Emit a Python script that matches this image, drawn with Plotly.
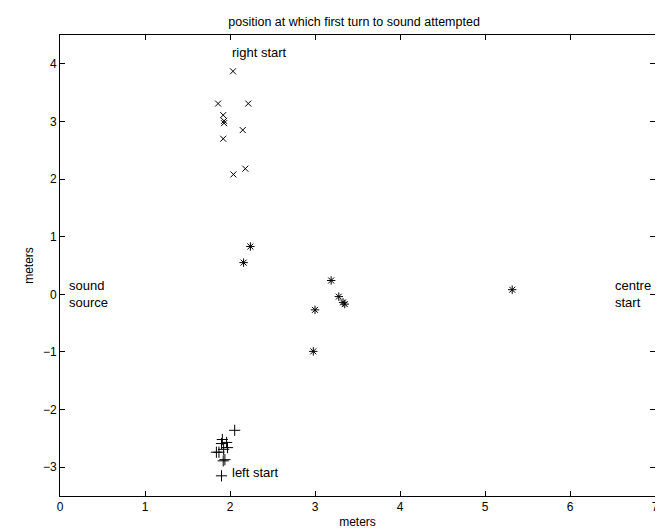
import plotly.graph_objects as go

# right start (x markers)
right_x = [2.035, 1.86, 2.215, 1.92, 1.93, 1.93, 2.15, 1.92, 2.18, 2.04]
right_y = [3.87, 3.31, 3.31, 3.11, 3.01, 2.97, 2.85, 2.70, 2.18, 2.08]

# left start (+ markers)
left_x = [2.055, 1.91, 1.96, 1.90, 1.97, 1.925, 1.84, 1.87, 1.94, 1.92, 1.90]
left_y = [-2.36, -2.52, -2.57, -2.59, -2.66, -2.69, -2.74, -2.74, -2.87, -2.89, -3.15]

# centre start (* markers)
centre_x = [3.19, 3.28, 3.33, 3.35, 3.00, 2.98, 2.24, 2.16, 5.32]
centre_y = [0.24, -0.04, -0.14, -0.17, -0.27, -0.99, 0.83, 0.55, 0.08]

labels = ["right start", "left start", "centre<br>start", "sound<br>source"]
label_x = [2.0, 2.0, 6.5, 0.08]
label_y = [4.2, -3.1, 0.0, 0.0]

x_ticks = [0, 1, 2, 3, 4, 5, 6, 7]
y_ticks = [-3, -2, -1, 0, 1, 2, 3, 4]

FONT = "Liberation Sans, Arial, Helvetica, sans-serif"

fig = go.Figure()
fig.add_trace(go.Scatter(x=right_x, y=right_y, mode="markers",
                         marker=dict(symbol="x-thin-open", size=6, color="black",
                                     line=dict(width=1, color="black"))))
fig.add_trace(go.Scatter(x=left_x, y=left_y, mode="markers",
                         marker=dict(symbol="cross-thin-open", size=8, color="black",
                                     line=dict(width=1, color="black"))))
fig.add_trace(go.Scatter(x=centre_x, y=centre_y, mode="markers",
                         marker=dict(symbol="asterisk-open", size=7, color="black",
                                     line=dict(width=1, color="black"))))

for t, x, y in zip(labels, label_x, label_y):
    fig.add_annotation(x=x, y=y, text=t, showarrow=False, xanchor="left",
                       yanchor="middle", align="left",
                       font=dict(family=FONT, size=13, color="black"))

axis_common = dict(showgrid=False, zeroline=False, showline=True, linecolor="black",
                   linewidth=1, mirror="ticks", ticks="inside", ticklen=5,
                   tickcolor="black", tickfont=dict(family=FONT, size=12, color="black"))

fig.update_xaxes(range=[0, 7], tickvals=x_ticks, title=dict(text="meters", standoff=4,
                 font=dict(family=FONT, size=12, color="black")), **axis_common)
fig.update_yaxes(range=[-3.5, 4.5], tickvals=y_ticks, title=dict(text="meters", standoff=6,
                 font=dict(family=FONT, size=12, color="black")), **axis_common)

fig.update_layout(
    width=663, height=531,
    margin=dict(l=52, r=16, t=27, b=34),
    plot_bgcolor="white", paper_bgcolor="white",
    showlegend=False,
    title=dict(text="position at which first turn to sound attempted",
               x=0.522, xanchor="center", y=0.975, yanchor="middle",
               font=dict(family=FONT, size=12.5, color="black")),
)

fig.write_html("out.html")
